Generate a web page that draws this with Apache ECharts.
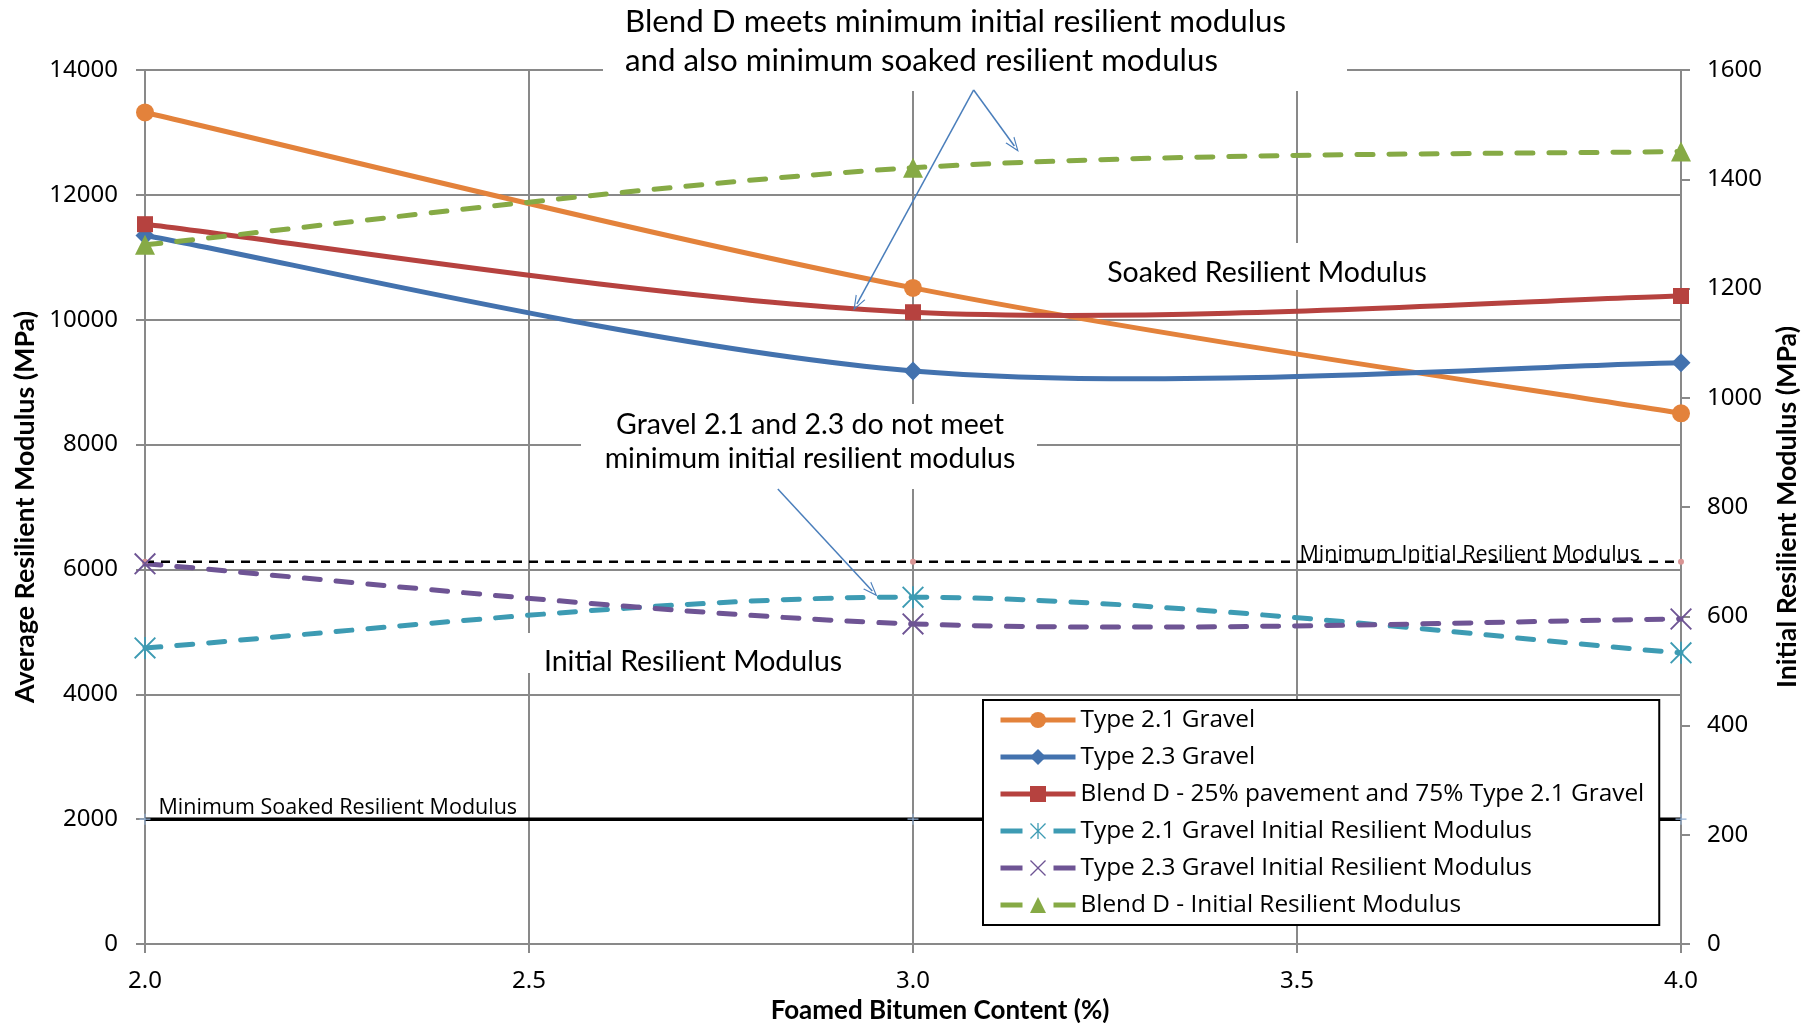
<!DOCTYPE html>
<html>
<head>
<meta charset="utf-8">
<script src="https://cdn.jsdelivr.net/npm/echarts@6/dist/echarts.min.js"></script>
<style>
html,body{margin:0;padding:0;background:#fff;}
#chart{width:1811px;height:1023px;}
</style>
</head>
<body>
<div id="chart"></div>
<script>
// ---- data ----
const bitumenContent = [2.0, 3.0, 4.0];
const type21Soaked = [13320, 10510, 8500];
const type23Soaked = [11350, 9180, 9310];
const blendDSoaked = [11530, 10120, 10380];
const type21Initial = [542, 635, 533];
const type23Initial = [696, 586, 595];
const blendDInitial = [1280, 1421, 1451];
const minInitialModulus = [700, 700, 700];
const minSoakedModulus = [2000, 2000, 2000];
const seriesNames = [
  'Type 2.1 Gravel',
  'Type 2.3 Gravel',
  'Blend D - 25% pavement and 75% Type 2.1 Gravel',
  'Type 2.1 Gravel Initial Resilient Modulus',
  'Type 2.3 Gravel Initial Resilient Modulus',
  'Blend D - Initial Resilient Modulus'
];
const xAxisRange = {min: 2, max: 4, interval: 0.5};
const leftAxisRange = {min: 0, max: 14000, interval: 2000};
const rightAxisRange = {min: 0, max: 1600, interval: 200};
// annotation arrows (data coordinates: [x, soaked modulus])
const arrowBlendStart = [3.079, 13680];
const arrowBlendEnds = [[2.927, 10252], [3.132, 12783]];
const arrowGravelStart = [2.824, 7288];
const arrowGravelEnd = [2.947, 5654];

const pts = (vals) => bitumenContent.map((x, i) => [x, vals[i]]);

const SANS = 'Lato';
const WIDE = 'Open Sans';
const TICKFONT = 'Noto Sans';
const GRID = '#898989';

const plusPath = 'path://M9,0 H11 V9 H20 V11 H11 V20 H9 V11 H0 V9 H9 Z';
const xPath = 'path://M0,1.2 L1.2,0 L10,8.8 L18.8,0 L20,1.2 L11.2,10 L20,18.8 L18.8,20 L10,11.2 L1.2,20 L0,18.8 L8.8,10 Z';
const starPath = 'path://M0,1.2 L1.2,0 L9.2,8 L9.2,0 L10.8,0 L10.8,8 L18.8,0 L20,1.2 L11.2,10 L20,18.8 L18.8,20 L10.8,12 L10.8,20 L9.2,20 L9.2,12 L1.2,20 L0,18.8 L8.8,10 Z';
const chevron = 'path://M0,10 L5,0 L10,10 L8.9,10 L5,2.2 L1.1,10 Z';

const colors = {
  orange: '#E3823B', blue: '#4372AE', red: '#B6423F',
  teal: '#3D9BB3', purple: '#6E5494', green: '#86AA45'
};
const DASH = [16, 16];

// Excel-like smoothed line (Catmull-Rom through the data points, via the axes' scales)
function splineSeries(vals, yAxisIndex, color, dashed) {
  return {
    type: 'custom', xAxisIndex: 0, yAxisIndex, data: pts(vals), encode: {x: 0, y: 1},
    silent: true, z: 2,
    renderItem: (params, api) => {
      if (params.dataIndex !== 0) return null;
      const P = vals.map((v, i) => api.coord([bitumenContent[i], v]));
      const n = P.length;
      let d = 'M' + P[0][0] + ',' + P[0][1];
      for (let i = 0; i < n - 1; i++) {
        const p0 = P[Math.max(i - 1, 0)], p1 = P[i], p2 = P[i + 1], p3 = P[Math.min(i + 2, n - 1)];
        const c1 = [p1[0] + (p2[0] - p0[0]) / 6, p1[1] + (p2[1] - p0[1]) / 6];
        const c2 = [p2[0] - (p3[0] - p1[0]) / 6, p2[1] - (p3[1] - p1[1]) / 6];
        d += ' C' + c1[0] + ',' + c1[1] + ' ' + c2[0] + ',' + c2[1] + ' ' + p2[0] + ',' + p2[1];
      }
      return {
        type: 'path', shape: {pathData: d},
        style: {fill: 'none', stroke: color, lineWidth: 5,
          lineDash: dashed ? DASH : null, lineCap: dashed ? 'round' : 'butt', lineJoin: 'round'}
      };
    }
  };
}

function markers(name, data, yAxisIndex, color, symbol, size) {
  return {
    name, type: 'line', xAxisIndex: 0, yAxisIndex, data: pts(data),
    symbol, symbolSize: size, showSymbol: true,
    lineStyle: {color, width: 5, opacity: 0}, itemStyle: {color},
    z: 3
  };
}
function legendItem(name, color, dashed) {
  return {name, lineStyle: {opacity: 1, color, width: 5, type: dashed ? [22, 31] : 'solid'}};
}

const chart = echarts.init(document.getElementById('chart'), null, {renderer: 'canvas'});

const arrowLine = {color: '#4A7EBB', width: 1.5, type: 'solid'};

const option = {
  animation: false,
  backgroundColor: '#fff',
  grid: {left: 145, right: 130, top: 70, bottom: 79, containLabel: false, outerBoundsMode: 'none'},
  xAxis: {
    type: 'value', min: xAxisRange.min, max: xAxisRange.max, interval: xAxisRange.interval,
    name: 'Foamed Bitumen Content (%)', nameLocation: 'middle', nameGap: 48,
    nameTextStyle: {fontFamily: SANS, fontWeight: 'bold', fontSize: 26, color: '#000', padding: [0, 0, 0, 54]},
    axisLine: {show: true, onZero: false, lineStyle: {color: GRID, width: 2}},
    axisTick: {show: true, length: 9, lineStyle: {color: GRID, width: 2}},
    axisLabel: {margin: 25, fontFamily: TICKFONT, fontSize: 24, color: '#000', formatter: v => v.toFixed(1)},
    splitLine: {show: true, lineStyle: {color: GRID, width: 2}}
  },
  yAxis: [
    {
      type: 'value', position: 'left', min: leftAxisRange.min, max: leftAxisRange.max, interval: leftAxisRange.interval,
      name: 'Average Resilient Modulus (MPa)', nameLocation: 'middle', nameGap: 105,
      nameTextStyle: {fontFamily: SANS, fontWeight: 'bold', fontSize: 26.8, color: '#000'},
      axisLine: {show: true, lineStyle: {color: GRID, width: 2}},
      axisTick: {show: true, length: 9, lineStyle: {color: GRID, width: 2}},
      axisLabel: {margin: 27, fontFamily: TICKFONT, fontSize: 24, color: '#000', formatter: v => String(v)},
      splitLine: {show: true, lineStyle: {color: GRID, width: 2}}
    },
    {
      type: 'value', position: 'right', min: rightAxisRange.min, max: rightAxisRange.max, interval: rightAxisRange.interval,
      name: 'Initial Resilient Modulus (MPa)', nameLocation: 'middle', nameGap: 93,
      nameTextStyle: {fontFamily: SANS, fontWeight: 'bold', fontSize: 26.8, color: '#000'},
      axisLine: {show: true, lineStyle: {color: GRID, width: 2}},
      axisTick: {show: true, length: 9, lineStyle: {color: GRID, width: 2}},
      axisLabel: {margin: 26, fontFamily: TICKFONT, fontSize: 24, color: '#000', formatter: v => String(v)},
      splitLine: {show: false}
    }
  ],
  legend: {
    orient: 'vertical', left: 983, top: 700,
    data: [
      legendItem(seriesNames[0], colors.orange, false),
      legendItem(seriesNames[1], colors.blue, false),
      legendItem(seriesNames[2], colors.red, false),
      legendItem(seriesNames[3], colors.teal, true),
      legendItem(seriesNames[4], colors.purple, true),
      legendItem(seriesNames[5], colors.green, true)
    ],
    backgroundColor: '#fff', borderColor: '#000', borderWidth: 2,
    padding: [8, 15, 8, 15], itemGap: 13, itemWidth: 75, itemHeight: 20,
    textStyle: {fontFamily: WIDE, fontSize: 24.4, lineHeight: 20, color: '#000'},
    selectedMode: false, z: 5
  },
  graphic: {elements: [
    {type: 'rect', z: 1, shape: {x: 603, y: 0, width: 744, height: 91}, style: {fill: '#fff'}},
    {type: 'text', z: 1, x: 625, y: 41, style: {
      text: 'Blend D meets minimum initial resilient modulus\nand also minimum soaked resilient modulus',
      fontFamily: SANS, fontSize: 31.3, lineHeight: 39, fill: '#000', align: 'left', verticalAlign: 'middle'}},
    {type: 'rect', z: 1, shape: {x: 581, y: 404, width: 456, height: 85}, style: {fill: '#fff'}},
    {type: 'text', z: 1, x: 810, y: 442, style: {
      text: 'Gravel 2.1 and 2.3 do not meet\nminimum initial resilient modulus',
      fontFamily: SANS, fontSize: 28.5, lineHeight: 34, fill: '#000', align: 'center', verticalAlign: 'middle'}},
    {type: 'rect', z: 1, shape: {x: 1090, y: 243, width: 355, height: 47}, style: {fill: '#fff'}},
    {type: 'text', z: 1, x: 1267, y: 273, style: {
      text: 'Soaked Resilient Modulus',
      fontFamily: SANS, fontSize: 28.5, fill: '#000', align: 'center', verticalAlign: 'middle'}},
    {type: 'rect', z: 1, shape: {x: 520, y: 633, width: 340, height: 40}, style: {fill: '#fff'}},
    {type: 'text', z: 1, x: 693, y: 662, style: {
      text: 'Initial Resilient Modulus',
      fontFamily: SANS, fontSize: 28.5, fill: '#000', align: 'center', verticalAlign: 'middle'}}
  ]},
  series: [
    splineSeries(type21Soaked, 0, colors.orange, false),
    splineSeries(type23Soaked, 0, colors.blue, false),
    splineSeries(blendDSoaked, 0, colors.red, false),
    splineSeries(type21Initial, 1, colors.teal, true),
    splineSeries(type23Initial, 1, colors.purple, true),
    splineSeries(blendDInitial, 1, colors.green, true),
    markers(seriesNames[0], type21Soaked, 0, colors.orange, 'circle', 18),
    markers(seriesNames[1], type23Soaked, 0, colors.blue, 'diamond', 19),
    markers(seriesNames[2], blendDSoaked, 0, colors.red, 'rect', 16),
    markers(seriesNames[3], type21Initial, 1, colors.teal, starPath, 22),
    markers(seriesNames[4], type23Initial, 1, colors.purple, xPath, 22),
    markers(seriesNames[5], blendDInitial, 1, colors.green, 'triangle', 20),
    {
      name: 'Minimum Initial Resilient Modulus', type: 'line', yAxisIndex: 1,
      data: pts(minInitialModulus).map((p, i) => i === 2 ? {value: p, label: {
        show: true, position: 'left', distance: 5, offset: [-33, -7],
        formatter: 'Minimum Initial Resilient Modulus',
        fontFamily: WIDE, fontSize: 21.5, color: '#000'}} : p),
      symbol: 'circle', symbolSize: 6,
      lineStyle: {color: '#000', width: 2.5, type: [9, 7]}, itemStyle: {color: '#D99594'},
      z: 2
    },
    {
      name: 'Minimum Soaked Resilient Modulus', type: 'line', yAxisIndex: 0,
      data: pts(minSoakedModulus).map((p, i) => i === 0 ? {value: p, label: {
        show: true, position: 'right', distance: 5, offset: [3, -11],
        formatter: 'Minimum Soaked Resilient Modulus',
        fontFamily: WIDE, fontSize: 21.5, color: '#000'}} : p),
      symbol: plusPath, symbolSize: 11,
      lineStyle: {color: '#000', width: 3.5}, itemStyle: {color: '#95B3D7'},
      z: 2,
      markLine: {
        silent: true, symbol: ['none', chevron], symbolSize: [11, 15],
        label: {show: false}, lineStyle: arrowLine, emphasis: {disabled: true},
        data: [
          [{coord: arrowBlendStart}, {coord: arrowBlendEnds[0]}],
          [{coord: arrowBlendStart}, {coord: arrowBlendEnds[1]}],
          [{coord: arrowGravelStart}, {coord: arrowGravelEnd}]
        ]
      }
    }
  ]
};
chart.setOption(option);
</script>
</body>
</html>
